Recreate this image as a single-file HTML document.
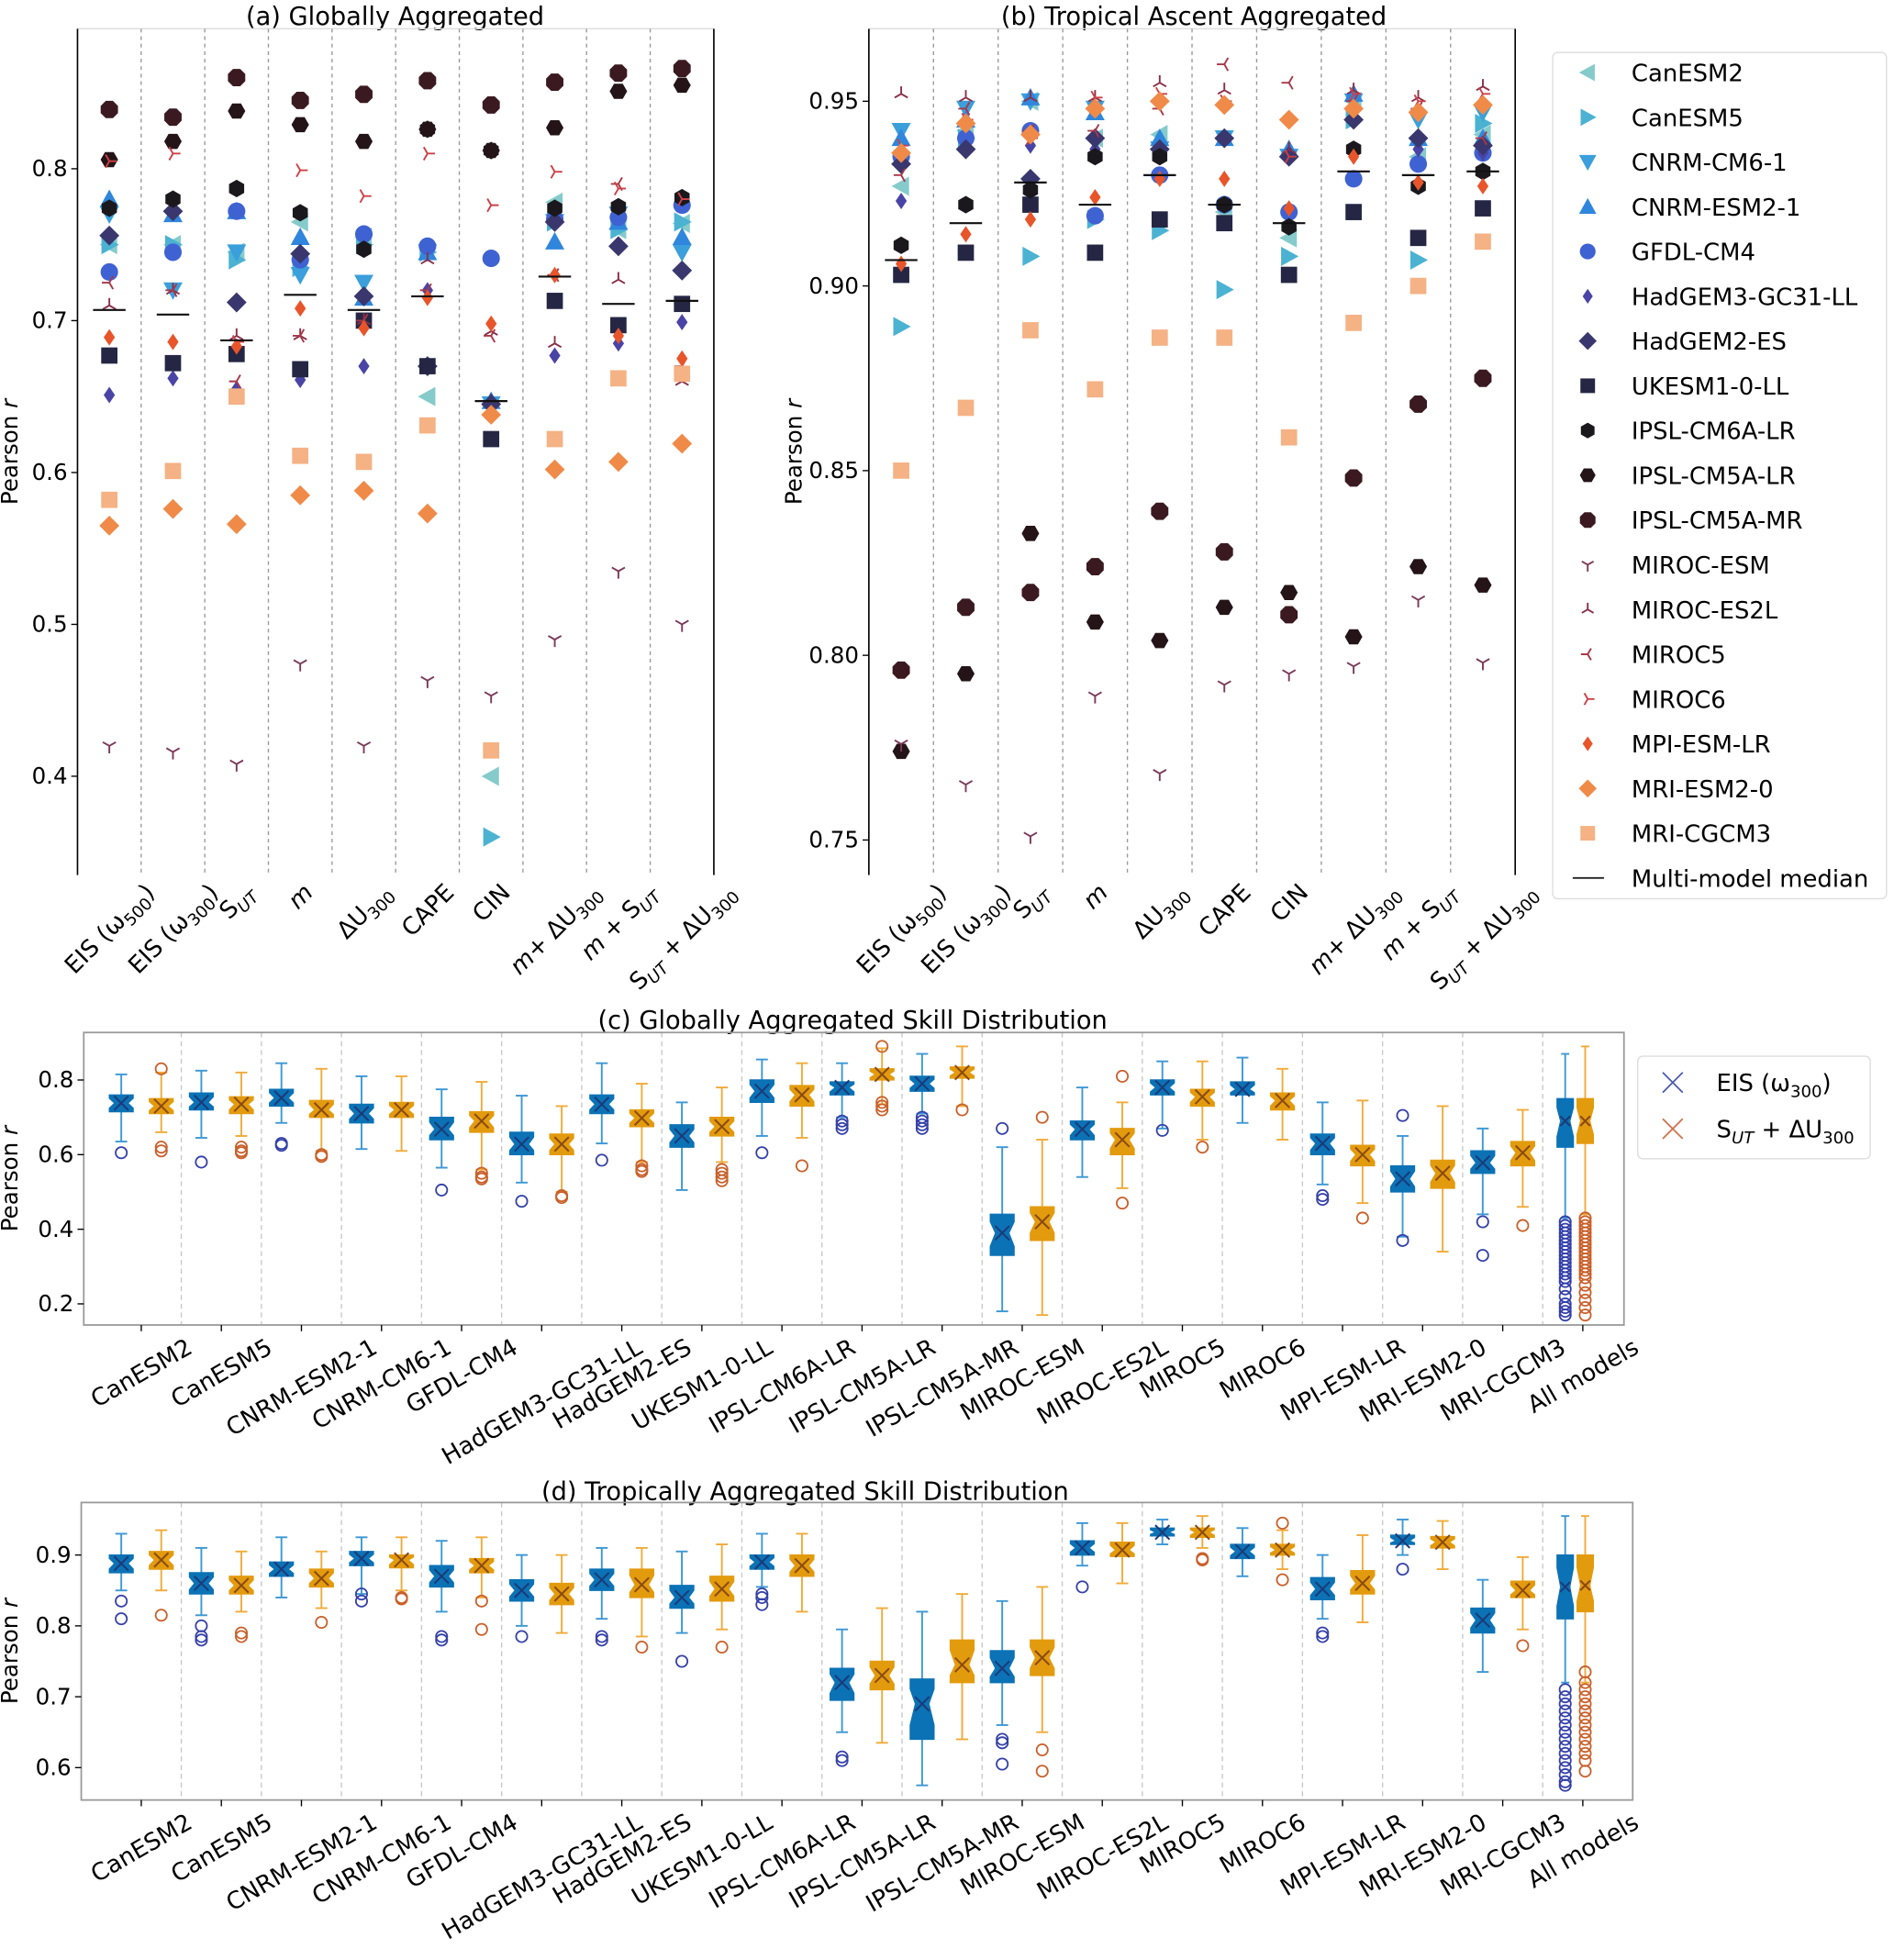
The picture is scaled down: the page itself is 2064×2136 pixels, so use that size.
<!DOCTYPE html>
<html><head><meta charset="utf-8"><style>
html,body{margin:0;padding:0;background:#fff;}
svg{display:block;font-family:"DejaVu Sans","Liberation Sans",sans-serif;}
</style></head><body>
<svg id="fig" width="2064" height="2136" viewBox="0 0 1515 1568" preserveAspectRatio="none" xmlns="http://www.w3.org/2000/svg">
<rect x="0" y="0" width="1515" height="1568" fill="#fff"/>
<g id="pa"></g>
<g id="pb"></g>
<g id="leg"></g>
<g id="pc"></g>
<g id="pd"></g>
</svg>
<script>
// ---------- data ----------
const models = ["CanESM2","CanESM5","CNRM-CM6-1","CNRM-ESM2-1","GFDL-CM4","HadGEM3-GC31-LL","HadGEM2-ES","UKESM1-0-LL","IPSL-CM6A-LR","IPSL-CM5A-LR","IPSL-CM5A-MR","MIROC-ESM","MIROC-ES2L","MIROC5","MIROC6","MPI-ESM-LR","MRI-ESM2-0","MRI-CGCM3"];
const markerTypes = ["tl","tr","td","tu","circle","thin","diamond","square","hex","hex2","oct","y_down","y_up","y_left","y_right","thin","diamond","square"];
const markerColors = ["#86cbcb","#4bb2d2","#3a9fdb","#2f86dc","#3f62d2","#4a44a6","#39376d","#252644","#1a181d","#241417","#3a1a20","#7a3a5a","#8a3048","#a83848","#cc4048","#e8552a","#f08a48","#f5b284"];
const markerSizes = [7,7,7,7,7,6,8,6.5,7,7,7.5,6,6,6,6,6,8,6.5];
const predictorCats = ["EIS (ω500)","EIS (ω300)","S_UT","m","ΔU300","CAPE","CIN","m+ ΔU300","m + S_UT","S_UT + ΔU300"];
const aCanESM2=[0.75,0.75,0.745,0.765,0.755,0.65,0.40,0.778,0.76,0.764];
const aCanESM5=[0.75,0.75,0.74,0.735,0.75,0.745,0.36,0.765,0.76,0.765];
const aCNRMCM6=[0.77,0.72,0.745,0.73,0.725,0.745,0.645,0.765,0.77,0.745];
const aCNRMESM2=[0.78,0.77,0.772,0.755,0.715,0.745,0.647,0.752,0.765,0.755];
const aGFDL=[0.732,0.745,0.772,0.74,0.757,0.749,0.741,0.767,0.768,0.776];
const aHadGEM3=[0.651,0.662,0.655,0.661,0.67,0.72,0.647,0.677,0.685,0.699];
const aHadGEM2=[0.756,0.772,0.712,0.744,0.716,0.67,0.645,0.765,0.749,0.733];
const aUKESM=[0.677,0.672,0.678,0.668,0.70,0.67,0.622,0.713,0.697,0.711];
const aIPSL6A=[0.774,0.78,0.787,0.771,0.747,0.826,0.812,0.774,0.775,0.781];
const aIPSL5ALR=[0.806,0.818,0.838,0.829,0.818,0.826,0.812,0.827,0.851,0.855];
const aIPSL5AMR=[0.839,0.834,0.86,0.845,0.849,0.858,0.842,0.857,0.863,0.866];
const aMIROCESM=[0.42,0.416,0.408,0.474,0.42,0.463,0.453,0.49,0.535,0.50];
const aMIROCES2L=[0.71,0.72,0.69,0.69,0.70,0.74,0.693,0.685,0.727,0.66];
const aMIROC5=[0.725,0.72,0.66,0.69,0.70,0.72,0.69,0.73,0.79,0.67];
const aMIROC6=[0.805,0.81,0.686,0.799,0.782,0.81,0.776,0.798,0.787,0.78];
const aMPI=[0.689,0.686,0.683,0.708,0.695,0.715,0.698,0.73,0.69,0.675];
const aMRI2=[0.565,0.576,0.566,0.585,0.588,0.573,0.638,0.602,0.607,0.619];
const aCGCM3=[0.582,0.601,0.65,0.611,0.607,0.631,0.417,0.622,0.662,0.665];
const aMedian=[0.707,0.704,0.687,0.717,0.707,0.716,0.647,0.729,0.711,0.713];
const aTicks=[0.4,0.5,0.6,0.7,0.8];
const bCanESM2=[0.927,0.942,0.95,0.94,0.941,0.92,0.913,0.95,0.935,0.941];
const bCanESM5=[0.889,0.94,0.908,0.918,0.915,0.899,0.908,0.945,0.907,0.944];
const bCNRMCM6=[0.942,0.948,0.95,0.948,0.937,0.94,0.935,0.95,0.945,0.947];
const bCNRMESM2=[0.94,0.945,0.951,0.947,0.94,0.94,0.937,0.952,0.94,0.94];
const bGFDL=[0.935,0.94,0.942,0.919,0.93,0.922,0.92,0.929,0.933,0.936];
const bHadGEM3=[0.923,0.937,0.938,0.937,0.937,0.94,0.936,0.945,0.937,0.936];
const bHadGEM2=[0.933,0.937,0.929,0.94,0.937,0.94,0.935,0.945,0.94,0.938];
const bUKESM=[0.903,0.909,0.922,0.909,0.918,0.917,0.903,0.92,0.913,0.921];
const bIPSL6A=[0.911,0.922,0.926,0.935,0.935,0.922,0.916,0.937,0.927,0.931];
const bIPSL5ALR=[0.774,0.795,0.833,0.809,0.804,0.813,0.817,0.805,0.824,0.819];
const bIPSL5AMR=[0.796,0.813,0.817,0.824,0.839,0.828,0.811,0.848,0.868,0.875];
const bMIROCESM=[0.776,0.765,0.751,0.789,0.768,0.792,0.795,0.797,0.815,0.798];
const bMIROCES2L=[0.952,0.951,0.951,0.951,0.955,0.953,0.937,0.953,0.951,0.954];
const bMIROC5=[0.93,0.948,0.942,0.942,0.948,0.96,0.955,0.95,0.948,0.94];
const bMIROC6=[0.938,0.945,0.94,0.951,0.952,0.95,0.935,0.952,0.95,0.952];
const bMPI=[0.906,0.914,0.918,0.924,0.929,0.929,0.921,0.935,0.928,0.927];
const bMRI2=[0.936,0.944,0.941,0.948,0.95,0.949,0.945,0.948,0.947,0.949];
const bCGCM3=[0.85,0.867,0.888,0.872,0.886,0.886,0.859,0.89,0.90,0.912];
const bMedian=[0.907,0.917,0.928,0.922,0.93,0.922,0.917,0.931,0.93,0.931];
const bTicks=[0.75,0.80,0.85,0.90,0.95];
const boxCats=["CanESM2","CanESM5","CNRM-ESM2-1","CNRM-CM6-1","GFDL-CM4","HadGEM3-GC31-LL","HadGEM2-ES","UKESM1-0-LL","IPSL-CM6A-LR","IPSL-CM5A-LR","IPSL-CM5A-MR","MIROC-ESM","MIROC-ES2L","MIROC5","MIROC6","MPI-ESM-LR","MRI-ESM2-0","MRI-CGCM3","All models"];
const cBlue=[[0.635,0.715,0.738,0.76,0.815],[0.645,0.72,0.74,0.765,0.825],[0.685,0.73,0.752,0.775,0.845],[0.615,0.685,0.71,0.735,0.81],[0.565,0.64,0.668,0.70,0.775],[0.525,0.60,0.628,0.66,0.758],[0.63,0.71,0.735,0.76,0.845],[0.505,0.62,0.65,0.68,0.74],[0.65,0.74,0.77,0.80,0.855],[0.70,0.76,0.78,0.795,0.845],[0.71,0.77,0.79,0.81,0.87],[0.18,0.33,0.39,0.44,0.62],[0.54,0.64,0.668,0.69,0.78],[0.67,0.76,0.78,0.80,0.85],[0.685,0.76,0.775,0.795,0.86],[0.52,0.60,0.63,0.655,0.74],[0.38,0.50,0.535,0.57,0.65],[0.44,0.55,0.578,0.61,0.67],[0.43,0.62,0.69,0.75,0.87]];
const cOrange=[[0.66,0.71,0.73,0.75,0.82],[0.65,0.71,0.735,0.755,0.82],[0.61,0.70,0.72,0.745,0.83],[0.61,0.70,0.72,0.74,0.81],[0.56,0.66,0.69,0.715,0.795],[0.50,0.60,0.628,0.655,0.73],[0.58,0.675,0.698,0.72,0.79],[0.58,0.65,0.675,0.70,0.78],[0.645,0.73,0.76,0.785,0.845],[0.735,0.80,0.815,0.83,0.885],[0.73,0.805,0.82,0.835,0.89],[0.17,0.37,0.42,0.46,0.64],[0.51,0.60,0.64,0.67,0.74],[0.64,0.73,0.755,0.775,0.85],[0.64,0.72,0.745,0.765,0.83],[0.47,0.57,0.60,0.625,0.745],[0.34,0.51,0.55,0.585,0.73],[0.46,0.57,0.605,0.635,0.72],[0.44,0.63,0.69,0.75,0.89]];
const cBlueOut=[[0.605],[0.58],[0.63,0.625],[],[0.505],[0.475],[0.585],[],[0.605],[0.69,0.68,0.67],[0.70,0.69,0.68,0.67],[0.67],[],[0.665],[],[0.49,0.48],[0.705,0.37],[0.42,0.33],[0.17,0.18,0.19,0.2,0.22,0.24,0.26,0.27,0.28,0.29,0.3,0.31,0.32,0.33,0.34,0.35,0.36,0.37,0.38,0.39,0.4,0.41,0.42]];
const cOrangeOut=[[0.83,0.62,0.61],[0.62,0.61,0.605],[0.60,0.595],[],[0.55,0.54,0.535],[0.49,0.485],[0.57,0.56,0.555],[0.56,0.55,0.54,0.53],[0.57],[0.89,0.74,0.73,0.72],[0.72],[0.70],[0.81,0.47],[0.62],[],[0.43],[],[0.41],[0.17,0.19,0.21,0.23,0.25,0.27,0.28,0.29,0.3,0.31,0.32,0.33,0.34,0.35,0.36,0.37,0.38,0.39,0.4,0.41,0.42,0.43]];
const cTicks=[0.2,0.4,0.6,0.8];
const dBlue=[[0.85,0.875,0.888,0.90,0.93],[0.815,0.845,0.86,0.875,0.91],[0.84,0.87,0.88,0.89,0.925],[0.845,0.885,0.895,0.905,0.925],[0.82,0.855,0.87,0.885,0.92],[0.80,0.835,0.85,0.865,0.90],[0.81,0.85,0.865,0.88,0.91],[0.79,0.825,0.84,0.857,0.905],[0.855,0.88,0.89,0.90,0.93],[0.65,0.695,0.72,0.74,0.795],[0.575,0.64,0.69,0.725,0.82],[0.66,0.72,0.74,0.765,0.835],[0.885,0.90,0.91,0.92,0.945],[0.915,0.927,0.932,0.938,0.95],[0.87,0.895,0.905,0.915,0.938],[0.81,0.837,0.852,0.868,0.90],[0.90,0.915,0.92,0.928,0.95],[0.735,0.79,0.808,0.825,0.865],[0.72,0.81,0.855,0.90,0.955]];
const dOrange=[[0.85,0.88,0.893,0.905,0.935],[0.82,0.845,0.857,0.87,0.905],[0.825,0.855,0.867,0.88,0.905],[0.85,0.882,0.893,0.90,0.925],[0.84,0.875,0.885,0.895,0.925],[0.79,0.83,0.845,0.86,0.90],[0.785,0.84,0.858,0.88,0.91],[0.795,0.835,0.852,0.87,0.915],[0.82,0.87,0.885,0.90,0.93],[0.635,0.71,0.73,0.75,0.825],[0.64,0.72,0.745,0.78,0.845],[0.65,0.73,0.755,0.78,0.855],[0.86,0.898,0.907,0.918,0.945],[0.91,0.925,0.932,0.938,0.955],[0.88,0.90,0.907,0.915,0.935],[0.805,0.845,0.86,0.878,0.928],[0.88,0.91,0.918,0.926,0.948],[0.795,0.84,0.85,0.863,0.897],[0.72,0.82,0.857,0.90,0.955]];
const dBlueOut=[[0.835,0.81],[0.80,0.785,0.78],[],[0.845,0.835],[0.785,0.78],[0.785],[0.785,0.78],[0.75],[0.845,0.84,0.83],[0.615,0.61],[],[0.64,0.635,0.605],[0.855],[],[],[0.79,0.785],[0.88],[],[0.575,0.58,0.59,0.6,0.61,0.62,0.63,0.64,0.65,0.66,0.67,0.68,0.69,0.70,0.71]];
const dOrangeOut=[[0.815],[0.79,0.785],[0.805],[0.84,0.838],[0.835,0.795],[],[0.77],[0.77],[],[],[],[0.625,0.595],[],[0.895,0.893],[0.945,0.865],[],[],[0.772],[0.595,0.61,0.62,0.63,0.64,0.65,0.66,0.67,0.68,0.69,0.70,0.71,0.72,0.735]];
const dTicks=[0.6,0.7,0.8,0.9];

const aVals=[aCanESM2,aCanESM5,aCNRMCM6,aCNRMESM2,aGFDL,aHadGEM3,aHadGEM2,aUKESM,aIPSL6A,aIPSL5ALR,aIPSL5AMR,aMIROCESM,aMIROCES2L,aMIROC5,aMIROC6,aMPI,aMRI2,aCGCM3];
const bVals=[bCanESM2,bCanESM5,bCNRMCM6,bCNRMESM2,bGFDL,bHadGEM3,bHadGEM2,bUKESM,bIPSL6A,bIPSL5ALR,bIPSL5AMR,bMIROCESM,bMIROCES2L,bMIROC5,bMIROC6,bMPI,bMRI2,bCGCM3];

const NS="http://www.w3.org/2000/svg";
function mk(tag,attrs,parent){const e=document.createElementNS(NS,tag);for(const k in attrs)e.setAttribute(k,attrs[k]);if(parent)parent.appendChild(e);return e;}
function richText(t,s,fs){
  const parts=[];
  let m;
  const re=/(S_UT)|(ω)(\d+)|(ΔU)(\d+)|(m)(?=$|[ +])|([^S_ωΔm]+|.)/g;
  while((m=re.exec(s))){
    if(m[1]){parts.push(["S",false,false]);parts.push(["UT",true,true]);}
    else if(m[2]){parts.push(["ω",false,false]);parts.push([m[3],true,false]);}
    else if(m[4]){parts.push(["ΔU",false,false]);parts.push([m[5],true,false]);}
    else if(m[6]){parts.push(["m",false,true]);}
    else parts.push([m[7],false,false]);
  }
  let shift=0;
  parts.forEach(p=>{
    const ts=mk("tspan",{},t);ts.textContent=p[0];
    if(p[1]){ts.setAttribute("font-size",fs*0.7);ts.setAttribute("dy",(fs*0.25-shift));shift=fs*0.25;}
    else if(shift){ts.setAttribute("dy",-shift);shift=0;}
    if(p[2])ts.setAttribute("font-style","italic");
  });
}
function drawMarker(g,type,x,y,r,c){
  let e;
  const pts=a=>a.map(p=>(x+p[0]*r)+","+(y+p[1]*r)).join(" ");
  switch(type){
    case "tl":e=mk("polygon",{points:pts([[-1.1,0],[0.9,-1.1],[0.9,1.1]]),fill:c},g);break;
    case "tr":e=mk("polygon",{points:pts([[1.1,0],[-0.9,-1.1],[-0.9,1.1]]),fill:c},g);break;
    case "td":e=mk("polygon",{points:pts([[0,1.1],[-1.1,-0.9],[1.1,-0.9]]),fill:c},g);break;
    case "tu":e=mk("polygon",{points:pts([[0,-1.1],[-1.1,0.9],[1.1,0.9]]),fill:c},g);break;
    case "circle":e=mk("circle",{cx:x,cy:y,r:r,fill:c},g);break;
    case "thin":e=mk("polygon",{points:pts([[0,-1.1],[0.75,0],[0,1.1],[-0.75,0]]),fill:c},g);break;
    case "diamond":e=mk("polygon",{points:pts([[0,-1],[1,0],[0,1],[-1,0]]),fill:c},g);break;
    case "square":e=mk("rect",{x:x-r,y:y-r,width:2*r,height:2*r,fill:c},g);break;
    case "hex":{const a=[];for(let i=0;i<6;i++){const t=Math.PI/3*i+Math.PI/6;a.push([Math.cos(t),Math.sin(t)]);}e=mk("polygon",{points:pts(a),fill:c},g);break;}
    case "hex2":{const a=[];for(let i=0;i<6;i++){const t=Math.PI/3*i;a.push([Math.cos(t),Math.sin(t)]);}e=mk("polygon",{points:pts(a),fill:c},g);break;}
    case "oct":{const a=[];for(let i=0;i<8;i++){const t=Math.PI/4*i+Math.PI/8;a.push([Math.cos(t),Math.sin(t)]);}e=mk("polygon",{points:pts(a),fill:c},g);break;}
    default:{
      const rot={y_down:0,y_up:180,y_left:90,y_right:-90}[type];
      e=mk("path",{d:`M${x},${y}L${x},${y+r} M${x},${y}L${x-r*0.87},${y-r*0.5} M${x},${y}L${x+r*0.87},${y-r*0.5}`,stroke:c,"stroke-width":1.4,fill:"none",transform:`rotate(${rot} ${x} ${y})`},g);
    }
  }
  return e;
}
function rotLabel(g,label,cx,top,angle,fs){
  const t=mk("text",{"font-size":fs,"text-anchor":"middle",fill:"#000"},g);
  richText(t,label,fs);
  const L=t.getComputedTextLength();
  const a=angle*Math.PI/180;
  const h=fs*0.95;
  const bh=L*Math.sin(a)+h*Math.cos(a);
  const cy=top+bh/2;
  t.setAttribute("x",cx);t.setAttribute("y",cy+fs*0.35);
  t.setAttribute("transform",`rotate(${-angle} ${cx} ${cy})`);
  return t;
}
function yLabel(g,x,y,fs){
  const t=mk("text",{x:x,y:y,"font-size":fs,"text-anchor":"middle",transform:`rotate(-90 ${x} ${y})`},g);
  t.textContent="Pearson ";const s=mk("tspan",{"font-style":"italic"},t);s.textContent="r";
  
}

function scatterPanel(g,x0,x1,y0,y1,ys,vals,med,ticks,title,titleX,ylabX,fmt){
  const n=predictorCats.length, w=(x1-x0)/n;
  const xs=i=>x0+w*(i+0.5);
  const tt=mk("text",{x:titleX,y:20,"font-size":20,"text-anchor":"middle"},g);tt.textContent=title;
  
  mk("line",{x1:x0,y1:y0,x2:x1,y2:y0,stroke:"#ddd","stroke-width":1},g);
  for(let i=1;i<n;i++){const sx=x0+w*i;const l=mk("line",{x1:sx,y1:y0,x2:sx,y2:y1,stroke:"#999","stroke-width":1,"stroke-dasharray":"3,3"},g);}
  mk("line",{x1:x0,y1:y0,x2:x0,y2:y1,stroke:"#000","stroke-width":1.2},g);
  mk("line",{x1:x1,y1:y0,x2:x1,y2:y1,stroke:"#000","stroke-width":1.2},g);
  ticks.forEach(v=>{const y=ys(v);mk("line",{x1:x0-5,y1:y,x2:x0,y2:y,stroke:"#000"},g);
    const t=mk("text",{x:x0-8,y:y+6,"font-size":18,"text-anchor":"end"},g);t.textContent=fmt(v);
    });
  yLabel(g,ylabX,(y0+y1)/2,18);
  predictorCats.forEach((c,i)=>{const t=rotLabel(g,c,xs(i),y1+4,45,19);});
  vals.forEach((arr,m)=>{
    arr.forEach((v,i)=>{const e=drawMarker(g,markerTypes[m],xs(i),ys(v),markerSizes[m],markerColors[m]);
      });
  });
  med.forEach((v,i)=>{const l=mk("line",{x1:xs(i)-13,y1:ys(v),x2:xs(i)+13,y2:ys(v),stroke:"#111","stroke-width":1.6},g);
    });
}
scatterPanel(document.getElementById("pa"),62,571,23,700,v=>135+(0.8-v)*1215,aVals,aMedian,aTicks,"(a) Globally Aggregated",316,14,v=>v.toFixed(1));
scatterPanel(document.getElementById("pb"),695,1212,23,700,v=>81+(0.95-v)*2955,bVals,bMedian,bTicks,"(b) Tropical Ascent Aggregated",955,641,v=>v.toFixed(2));

(function(){
  const g=document.getElementById("leg");
  mk("rect",{x:1242,y:42,width:267,height:677,rx:4,fill:"#fff",stroke:"#ddd"},g);
  models.forEach((m,i)=>{const y=58+i*35.8;
    const e=drawMarker(g,markerTypes[i],1270,y,markerSizes[i]*0.9,markerColors[i]);
    
    const t=mk("text",{x:1305,y:y+7,"font-size":19},g);t.textContent=m;
    });
  const y=58+18*35.8;
  mk("line",{x1:1258,y1:y,x2:1283,y2:y,stroke:"#222","stroke-width":1.4},g);
  const t=mk("text",{x:1305,y:y+7,"font-size":19},g);t.textContent="Multi-model median";
  
})();

function boxPanel(g,x0,x1,y0,y1,ys,blue,orange,bOut,oOut,ticks,title,titleX,titleY){
  const xc=i=>113+64.06*i;
  const tt=mk("text",{x:titleX,y:titleY,"font-size":20,"text-anchor":"middle"},g);tt.textContent=title;
  
  for(let i=0;i<boxCats.length-1;i++){const sx=xc(i)+32;const l=mk("line",{x1:sx,y1:y0,x2:sx,y2:y1,stroke:"#c8c8c8","stroke-width":1,"stroke-dasharray":"4,3"},g);
    }
  mk("rect",{x:x0,y:y0,width:x1-x0,height:y1-y0,fill:"none",stroke:"#999","stroke-width":1.3},g);
  ticks.forEach(v=>{const y=ys(v);mk("line",{x1:x0-5,y1:y,x2:x0,y2:y,stroke:"#000"},g);
    const t=mk("text",{x:x0-8,y:y+6,"font-size":18,"text-anchor":"end"},g);t.textContent=v.toFixed(1);
    });
  yLabel(g,14,(y0+y1)/2,18);
  boxCats.forEach((c,i)=>{mk("line",{x1:xc(i),y1:y1,x2:xc(i),y2:y1+5,stroke:"#000"},g);
    const t=rotLabel(g,c,xc(i),y1+8,30,19);});
  function box(cx,s,outs,fill,wc,oc,xcol,w,name){
    const bg=mk("g",{},g);
    const [lo,q1,md,q3,hi]=s;const h=w/2;
    mk("line",{x1:cx,y1:ys(hi),x2:cx,y2:ys(q3),stroke:wc,"stroke-width":1.4},bg);
    mk("line",{x1:cx,y1:ys(q1),x2:cx,y2:ys(lo),stroke:wc,"stroke-width":1.4},bg);
    mk("line",{x1:cx-w/4,y1:ys(hi),x2:cx+w/4,y2:ys(hi),stroke:wc,"stroke-width":1.4},bg);
    mk("line",{x1:cx-w/4,y1:ys(lo),x2:cx+w/4,y2:ys(lo),stroke:wc,"stroke-width":1.4},bg);
    const nhi=ys(md+0.6*(q3-md)),nlo=ys(md-0.6*(md-q1)),ym=ys(md),a=w*0.22;
    mk("polygon",{points:`${cx-h},${ys(q3)} ${cx+h},${ys(q3)} ${cx+h},${nhi} ${cx+h-a},${ym} ${cx+h},${nlo} ${cx+h},${ys(q1)} ${cx-h},${ys(q1)} ${cx-h},${nlo} ${cx-h+a},${ym} ${cx-h},${nhi}`,fill:fill,stroke:fill,"stroke-width":1},bg);
    const k=w*0.3;
    mk("path",{d:`M${cx-k},${ym-k}L${cx+k},${ym+k}M${cx-k},${ym+k}L${cx+k},${ym-k}`,stroke:xcol,"stroke-width":1.5},bg);
    outs.forEach(v=>mk("circle",{cx:cx,cy:ys(v),r:4.5,fill:"none",stroke:oc,"stroke-width":1.3},bg));
  }
  blue.forEach((s,i)=>{const all=i===boxCats.length-1;const cx=all?1252:xc(i)-16;const w=all?13:19;
    box(cx,s,bOut[i],"#0b72b5","#3d98d4","#3440a8","#1b3a78",w,"box-eis-"+boxCats[i].toLowerCase().replace(/ /g,'-'));});
  orange.forEach((s,i)=>{const all=i===boxCats.length-1;const cx=all?1268:xc(i)+16;const w=all?13:19;
    box(cx,s,oOut[i],"#e39b0e","#f0ab3a","#c8602a","#8a4a12",w,"box-sut-du-"+boxCats[i].toLowerCase().replace(/ /g,'-'));});
}
boxPanel(document.getElementById("pc"),67,1299,826,1060,v=>864+(0.8-v)*298.5,cBlue,cOrange,cBlueOut,cOrangeOut,cTicks,"(c) Globally Aggregated Skill Distribution",682,823);
boxPanel(document.getElementById("pd"),65,1306,1202,1440,v=>1244+(0.9-v)*567,dBlue,dOrange,dBlueOut,dOrangeOut,dTicks,"(d) Tropically Aggregated Skill Distribution",644,1200);

(function(){
  const g=document.getElementById("pc");
  const lg=mk("g",{},g);
  mk("rect",{x:1310,y:845,width:186,height:82,rx:4,fill:"#fff",stroke:"#ddd"},lg);
  const ent=[["EIS (ω300)","#4a5ab0",866],["S_UT + ΔU300","#d0704a",903]];
  ent.forEach(e=>{const x=1338,y=e[2],k=8;
    mk("path",{d:`M${x-k},${y-k}L${x+k},${y+k}M${x-k},${y+k}L${x+k},${y-k}`,stroke:e[1],"stroke-width":1.3},lg);
    const t=mk("text",{x:1373,y:y+7,"font-size":19},lg);richText(t,e[0],19);
    });
})();
</script>
</body></html>
